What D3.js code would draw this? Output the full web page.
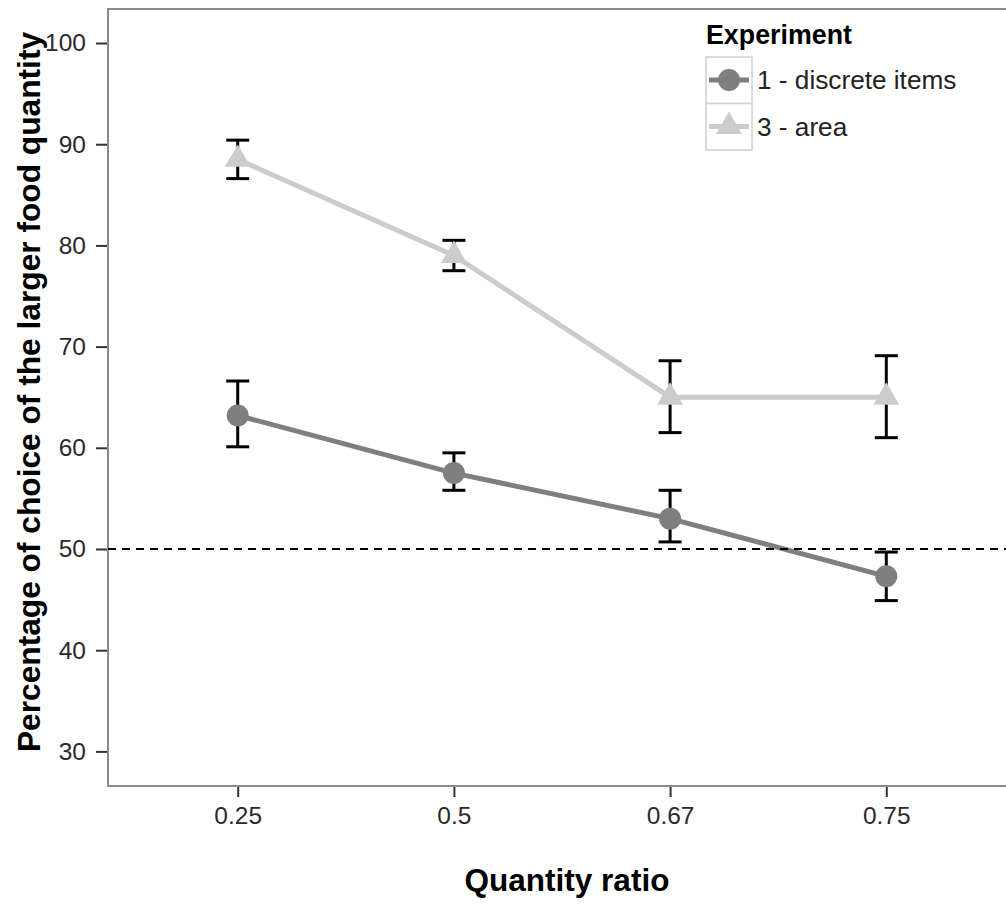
<!DOCTYPE html>
<html>
<head>
<meta charset="utf-8">
<script src="https://cdn.jsdelivr.net/npm/d3@7"></script>
<style>
  body { margin: 0; background: #fff; }
  text { font-family: 'Liberation Sans', Arial, sans-serif; }
</style>
</head>
<body>
<div id="chart"></div>
<script>
// data
var ratios = ['0.25', '0.5', '0.67', '0.75']
var discreteMean = [63.2, 57.5, 53.0, 47.3]
var discreteLo = [60.1, 55.8, 50.7, 44.9]
var discreteHi = [66.6, 59.5, 55.8, 49.7]
var areaMean = [88.5, 79.0, 65.0, 65.0]
var areaLo = [86.6, 77.5, 61.5, 61.0]
var areaHi = [90.4, 80.5, 68.6, 69.1]
var yTicks = [30, 40, 50, 60, 70, 80, 90, 100]
var chanceLevel = 50
var legendTitle = 'Experiment'
var seriesNames = ['1 - discrete items', '3 - area']

var width = 1006
var height = 904
var panel = { left: 108, top: 9, right: 1016, bottom: 786 }

var svg = d3
  .select('#chart')
  .append('svg')
  .attr('width', width)
  .attr('height', height)

var xScale = d3
  .scalePoint()
  .domain(ratios)
  .range([panel.left, panel.right])
  .padding(0.6)

var yScale = d3
  .scaleLinear()
  .domain([26.58, 103.36])
  .range([panel.bottom, panel.top])

var series = [
  { name: seriesNames[0], mean: discreteMean, lo: discreteLo, hi: discreteHi, color: '#7f7f7f', shape: 'circle' },
  { name: seriesNames[1], mean: areaMean, lo: areaLo, hi: areaHi, color: '#cccccc', shape: 'triangle' }
]

series.forEach(s => {
  s.points = ratios.map((r, i) => ({ ratio: r, mean: s.mean[i], lo: s.lo[i], hi: s.hi[i] }))
})

var triangle = d3.symbol().type(d3.symbolTriangle).size(290)

// axes
var yAxis = svg
  .append('g')
  .attr('transform', 'translate(' + panel.left + ',0)')
  .call(d3.axisLeft(yScale).tickValues(yTicks).tickSize(12).tickPadding(10))
yAxis.select('.domain').remove()
yAxis.selectAll('.tick line').attr('stroke', '#333').attr('stroke-width', 2)
yAxis.selectAll('.tick text').attr('font-size', 24.5).attr('fill', '#2a2a2a')

var xAxis = svg
  .append('g')
  .attr('transform', 'translate(0,' + panel.bottom + ')')
  .call(d3.axisBottom(xScale).tickSize(11).tickPadding(10))
xAxis.select('.domain').remove()
xAxis.selectAll('.tick line').attr('stroke', '#333').attr('stroke-width', 2)
xAxis.selectAll('.tick text').attr('font-size', 24.5).attr('fill', '#2a2a2a')

// panel border
svg
  .append('rect')
  .attr('x', panel.left)
  .attr('y', panel.top)
  .attr('width', panel.right - panel.left)
  .attr('height', panel.bottom - panel.top)
  .attr('fill', 'none')
  .attr('stroke', '#8a8a8a')
  .attr('stroke-width', 2)

// error bars
series.forEach(s => {
  var g = svg.append('g').attr('class', 'errorbars')
  g.selectAll('.stem')
    .data(s.points)
    .enter()
    .append('line')
    .attr('x1', d => xScale(d.ratio))
    .attr('x2', d => xScale(d.ratio))
    .attr('y1', d => yScale(d.lo))
    .attr('y2', d => yScale(d.hi))
    .attr('stroke', 'black')
    .attr('stroke-width', 3)
  ;['lo', 'hi'].forEach(k => {
    g.selectAll('.cap-' + k)
      .data(s.points)
      .enter()
      .append('line')
      .attr('x1', d => xScale(d.ratio) - 11.5)
      .attr('x2', d => xScale(d.ratio) + 11.5)
      .attr('y1', d => yScale(d[k]))
      .attr('y2', d => yScale(d[k]))
      .attr('stroke', 'black')
      .attr('stroke-width', 3)
  })
})

// lines
var line = d3
  .line()
  .x(d => xScale(d.ratio))
  .y(d => yScale(d.mean))

series.forEach(s => {
  svg
    .append('path')
    .datum(s.points)
    .attr('d', line)
    .attr('fill', 'none')
    .attr('stroke', s.color)
    .attr('stroke-width', 5)
})

// chance level
svg
  .append('line')
  .attr('x1', panel.left)
  .attr('x2', width)
  .attr('y1', yScale(chanceLevel))
  .attr('y2', yScale(chanceLevel))
  .attr('stroke', 'black')
  .attr('stroke-width', 2)
  .attr('stroke-dasharray', '8,6')

// points
series.forEach(s => {
  if (s.shape === 'circle') {
    svg.selectAll('.pt-circle')
      .data(s.points)
      .enter()
      .append('circle')
      .attr('cx', d => xScale(d.ratio))
      .attr('cy', d => yScale(d.mean))
      .attr('r', 11)
      .attr('fill', s.color)
  } else {
    svg.selectAll('.pt-tri')
      .data(s.points)
      .enter()
      .append('path')
      .attr('d', triangle)
      .attr('transform', d => 'translate(' + xScale(d.ratio) + ',' + yScale(d.mean) + ')')
      .attr('fill', s.color)
  }
})

// axis titles
svg
  .append('text')
  .text('Quantity ratio')
  .attr('x', 567)
  .attr('y', 891)
  .attr('text-anchor', 'middle')
  .attr('font-size', 31.5)
  .attr('font-weight', 'bold')
  .attr('fill', 'black')

svg
  .append('text')
  .text('Percentage of choice of the larger food quantity')
  .attr('transform', 'translate(40,392) rotate(-90)')
  .attr('text-anchor', 'middle')
  .attr('font-size', 31.7)
  .attr('font-weight', 'bold')
  .attr('fill', 'black')

// legend
var legend = svg.append('g').attr('transform', 'translate(706,0)')

legend
  .append('text')
  .text(legendTitle)
  .attr('x', 0)
  .attr('y', 44)
  .attr('font-size', 26.8)
  .attr('font-weight', 'bold')
  .attr('fill', 'black')

var keys = legend
  .selectAll('.legend-key')
  .data(series)
  .enter()
  .append('g')
  .attr('transform', (d, i) => 'translate(0,' + (57 + i * 46.5) + ')')

keys
  .append('rect')
  .attr('width', 46)
  .attr('height', 46.5)
  .attr('fill', 'white')
  .attr('stroke', '#d0d0d0')
  .attr('stroke-width', 1.5)

keys
  .append('line')
  .attr('x1', 3)
  .attr('x2', 43)
  .attr('y1', 23)
  .attr('y2', 23)
  .attr('stroke', d => d.color)
  .attr('stroke-width', 5)

keys.each(function(d) {
  var k = d3.select(this)
  if (d.shape === 'circle') {
    k.append('circle').attr('cx', 23).attr('cy', 23).attr('r', 11).attr('fill', d.color)
  } else {
    k.append('path').attr('d', triangle).attr('transform', 'translate(23,23)').attr('fill', d.color)
  }
})

keys
  .append('text')
  .text(d => d.name)
  .attr('x', 51)
  .attr('y', 23)
  .attr('dy', '0.35em')
  .attr('font-size', 26.2)
  .attr('fill', '#222')
</script>
</body>
</html>
